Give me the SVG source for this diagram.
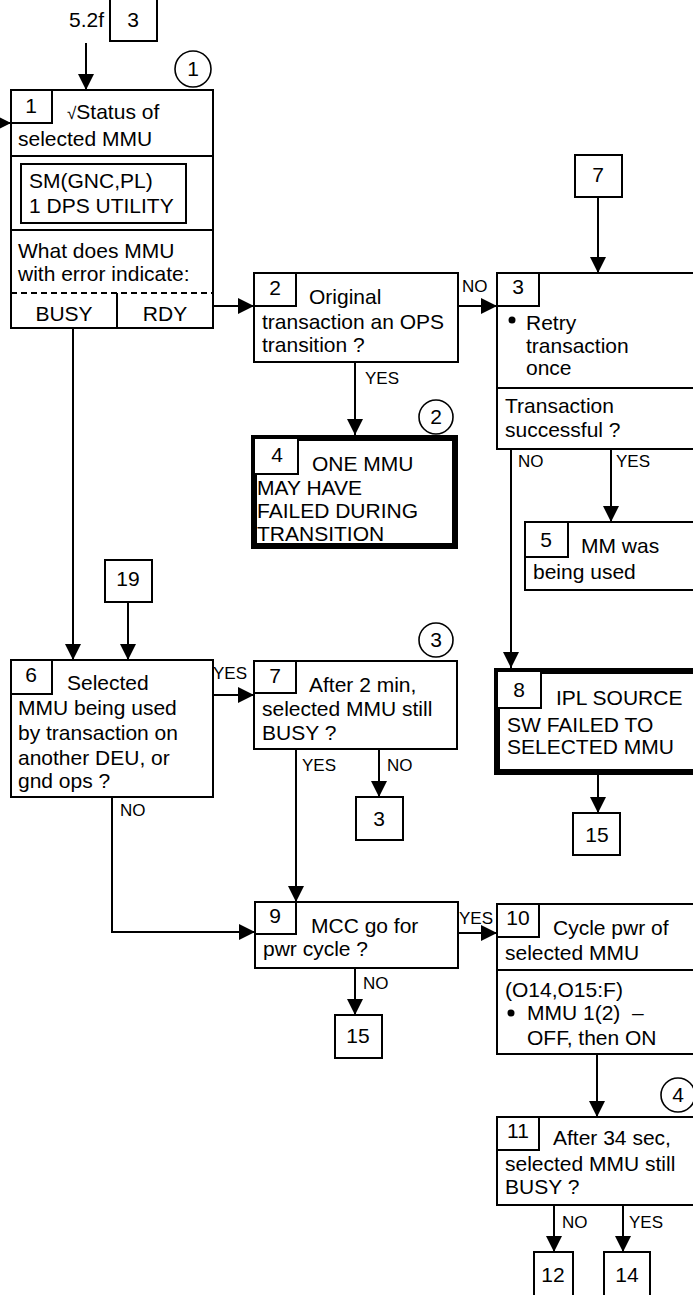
<svg xmlns="http://www.w3.org/2000/svg" width="693" height="1295" viewBox="0 0 693 1295">
<style>
text{font-family:"Liberation Sans",Arial,sans-serif;font-size:21px;fill:#000}
.l{font-size:17px}
.m{text-anchor:middle}
.b{fill:#fff;stroke:#000;stroke-width:2}
.t{fill:#fff;stroke:#000;stroke-width:6}
.n{fill:none;stroke:#000;stroke-width:2}
.c{fill:none;stroke:#000;stroke-width:1.6}
</style>
<defs>
<marker id="a" markerUnits="userSpaceOnUse" markerWidth="16" markerHeight="16" refX="16" refY="8" orient="auto">
<path d="M0,0 L16,8 L0,16 z" fill="#000"/>
</marker>
</defs>
<rect width="693" height="1295" fill="#fff"/>

<g id="connectors" fill="none" stroke="#000" stroke-width="2">
<path d="M86,43 V90" marker-end="url(#a)"/>
<path d="M-5,123 H11" marker-end="url(#a)"/>
<path d="M213,306 H254" marker-end="url(#a)"/>
<path d="M458,306 H497" marker-end="url(#a)"/>
<path d="M598,197 V273" marker-end="url(#a)"/>
<path d="M355,362 V435" marker-end="url(#a)"/>
<path d="M511,449 V668" marker-end="url(#a)"/>
<path d="M611,449 V522" marker-end="url(#a)"/>
<path d="M598,775 V813" marker-end="url(#a)"/>
<path d="M73,328 V660" marker-end="url(#a)"/>
<path d="M128,602 V660" marker-end="url(#a)"/>
<path d="M213,695 H254" marker-end="url(#a)"/>
<path d="M296,749 V902" marker-end="url(#a)"/>
<path d="M379,749 V797" marker-end="url(#a)"/>
<path d="M112,797 V932 H255" marker-end="url(#a)"/>
<path d="M458,933 H497" marker-end="url(#a)"/>
<path d="M355,968 V1015" marker-end="url(#a)"/>
<path d="M597,1054 V1117" marker-end="url(#a)"/>
<path d="M554,1205 V1252" marker-end="url(#a)"/>
<path d="M623,1205 V1252" marker-end="url(#a)"/>
</g>
<g id="connector-labels">
<text class="l" x="462" y="292">NO</text>
<text class="l" x="365" y="384">YES</text>
<text class="l" x="518" y="467">NO</text>
<text class="l" x="616" y="467">YES</text>
<text class="l" x="213" y="679">YES</text>
<text class="l" x="302" y="771">YES</text>
<text class="l" x="387" y="771">NO</text>
<text class="l" x="120" y="816">NO</text>
<text class="l" x="459" y="924">YES</text>
<text class="l" x="363" y="989">NO</text>
<text class="l" x="562" y="1228">NO</text>
<text class="l" x="629" y="1228">YES</text>
</g>

<g id="ref-top">
<text x="69" y="27">5.2f</text>
<rect class="b" x="110" y="-3" width="47" height="44"/>
<text class="m" x="133" y="27">3</text>
</g>

<g id="circles">
<circle class="c" cx="193" cy="69" r="18"/><text class="m" x="193" y="76">1</text>
<circle class="c" cx="436" cy="417" r="17"/><text class="m" x="436" y="424">2</text>
<circle class="c" cx="436" cy="640" r="17"/><text class="m" x="436" y="647">3</text>
<circle class="c" cx="678" cy="1095" r="17"/><text class="m" x="678" y="1102">4</text>
</g>

<g id="node1">
<rect class="b" x="11" y="90" width="202" height="238"/>
<rect class="b" x="11" y="90" width="41" height="33"/>
<text class="m" x="31" y="113">1</text>
<text x="67" y="119"><tspan font-size="17">√</tspan>Status of</text>
<text x="18" y="146">selected MMU</text>
<path class="n" d="M11,156 H213 M11,230 H213"/>
<rect class="b" x="21" y="164" width="165" height="59"/>
<text x="29" y="188">SM(GNC,PL)</text>
<text x="29" y="213">1 DPS UTILITY</text>
<text x="18" y="258">What does MMU</text>
<text x="18" y="281">with error indicate:</text>
<path class="n" d="M11,293 H213" stroke-dasharray="6,4"/>
<path class="n" d="M117,293 V328"/>
<text class="m" x="64" y="321">BUSY</text>
<text class="m" x="165" y="321">RDY</text>
</g>

<g id="node2">
<rect class="b" x="254" y="273" width="204" height="89"/>
<rect class="b" x="254" y="273" width="42" height="33"/>
<text class="m" x="275" y="295">2</text>
<text x="309" y="304">Original</text>
<text x="262" y="329">transaction an OPS</text>
<text x="262" y="352">transition ?</text>
</g>

<g id="node3">
<rect class="b" x="497" y="273" width="210" height="176"/>
<rect class="b" x="497" y="273" width="42" height="33"/>
<text class="m" x="518" y="294">3</text>
<circle cx="512" cy="320" r="3.5" fill="#000"/>
<text x="526" y="330">Retry</text>
<text x="526" y="353">transaction</text>
<text x="526" y="375">once</text>
<path class="n" d="M497,388 H700"/>
<text x="505" y="413">Transaction</text>
<text x="505" y="437">successful ?</text>
</g>
<g id="ref7a">
<rect class="b" x="575" y="155" width="47" height="42"/>
<text class="m" x="598" y="182">7</text>
</g>

<g id="node4">
<rect class="t" x="254" y="438" width="201" height="108"/>
<rect class="b" x="254" y="438" width="44" height="36"/>
<text class="m" x="277" y="462">4</text>
<text x="312" y="471">ONE MMU</text>
<text x="257" y="495">MAY HAVE</text>
<text x="257" y="518">FAILED DURING</text>
<text x="257" y="541">TRANSITION</text>
</g>

<g id="node5">
<rect class="b" x="525" y="522" width="180" height="68"/>
<rect class="b" x="525" y="522" width="43" height="35"/>
<text class="m" x="546" y="547">5</text>
<text x="581" y="553">MM was</text>
<text x="533" y="579">being used</text>
</g>

<g id="ref19">
<rect class="b" x="105" y="560" width="47" height="42"/>
<text class="m" x="128" y="586">19</text>
</g>

<g id="node6">
<rect class="b" x="11" y="660" width="202" height="137"/>
<rect class="b" x="11" y="660" width="41" height="34"/>
<text class="m" x="31" y="682">6</text>
<text x="67" y="690">Selected</text>
<text x="18" y="715">MMU being used</text>
<text x="18" y="740">by transaction on</text>
<text x="18" y="765">another DEU, or</text>
<text x="18" y="788">gnd ops ?</text>
</g>

<g id="node7">
<rect class="b" x="254" y="661" width="203" height="88"/>
<rect class="b" x="254" y="661" width="42" height="32"/>
<text class="m" x="275" y="683">7</text>
<text x="309" y="692">After 2 min,</text>
<text x="262" y="716">selected MMU still</text>
<text x="262" y="740">BUSY ?</text>
</g>
<g id="ref3b">
<rect class="b" x="356" y="797" width="47" height="43"/>
<text class="m" x="379" y="826">3</text>
</g>

<g id="node8">
<rect class="t" x="497" y="671" width="210" height="101"/>
<rect class="b" x="497" y="671" width="44" height="37"/>
<text class="m" x="519" y="697">8</text>
<text x="556" y="705">IPL SOURCE</text>
<text x="507" y="732">SW FAILED TO</text>
<text x="507" y="754">SELECTED MMU</text>
</g>
<g id="ref15a">
<rect class="b" x="573" y="813" width="47" height="42"/>
<text class="m" x="597" y="842">15</text>
</g>

<g id="node9">
<rect class="b" x="255" y="902" width="203" height="66"/>
<rect class="b" x="255" y="902" width="41" height="32"/>
<text class="m" x="275" y="923">9</text>
<text x="311" y="933">MCC go for</text>
<text x="263" y="956">pwr cycle ?</text>
</g>
<g id="ref15b">
<rect class="b" x="335" y="1015" width="47" height="43"/>
<text class="m" x="358" y="1043">15</text>
</g>

<g id="node10">
<rect class="b" x="497" y="904" width="210" height="150"/>
<rect class="b" x="497" y="904" width="42" height="33"/>
<text class="m" x="518" y="925">10</text>
<text x="553" y="935">Cycle pwr of</text>
<text x="505" y="960">selected MMU</text>
<path class="n" d="M497,970 H700"/>
<text x="505" y="997">(O14,O15:F)</text>
<circle cx="511" cy="1013" r="3.5" fill="#000"/>
<text x="527" y="1020" xml:space="preserve">MMU 1(2)  –</text>
<text x="527" y="1045">OFF, then ON</text>
</g>

<g id="node11">
<rect class="b" x="497" y="1117" width="210" height="88"/>
<rect class="b" x="497" y="1117" width="42" height="33"/>
<text class="m" x="518" y="1138">11</text>
<text x="553" y="1145">After 34 sec,</text>
<text x="505" y="1171">selected MMU still</text>
<text x="505" y="1194">BUSY ?</text>
</g>

<g id="ref12">
<rect class="b" x="534" y="1252" width="39" height="50"/>
<text class="m" x="553" y="1282">12</text>
</g>
<g id="ref14">
<rect class="b" x="604" y="1252" width="46" height="50"/>
<text class="m" x="627" y="1282">14</text>
</g>
</svg>
